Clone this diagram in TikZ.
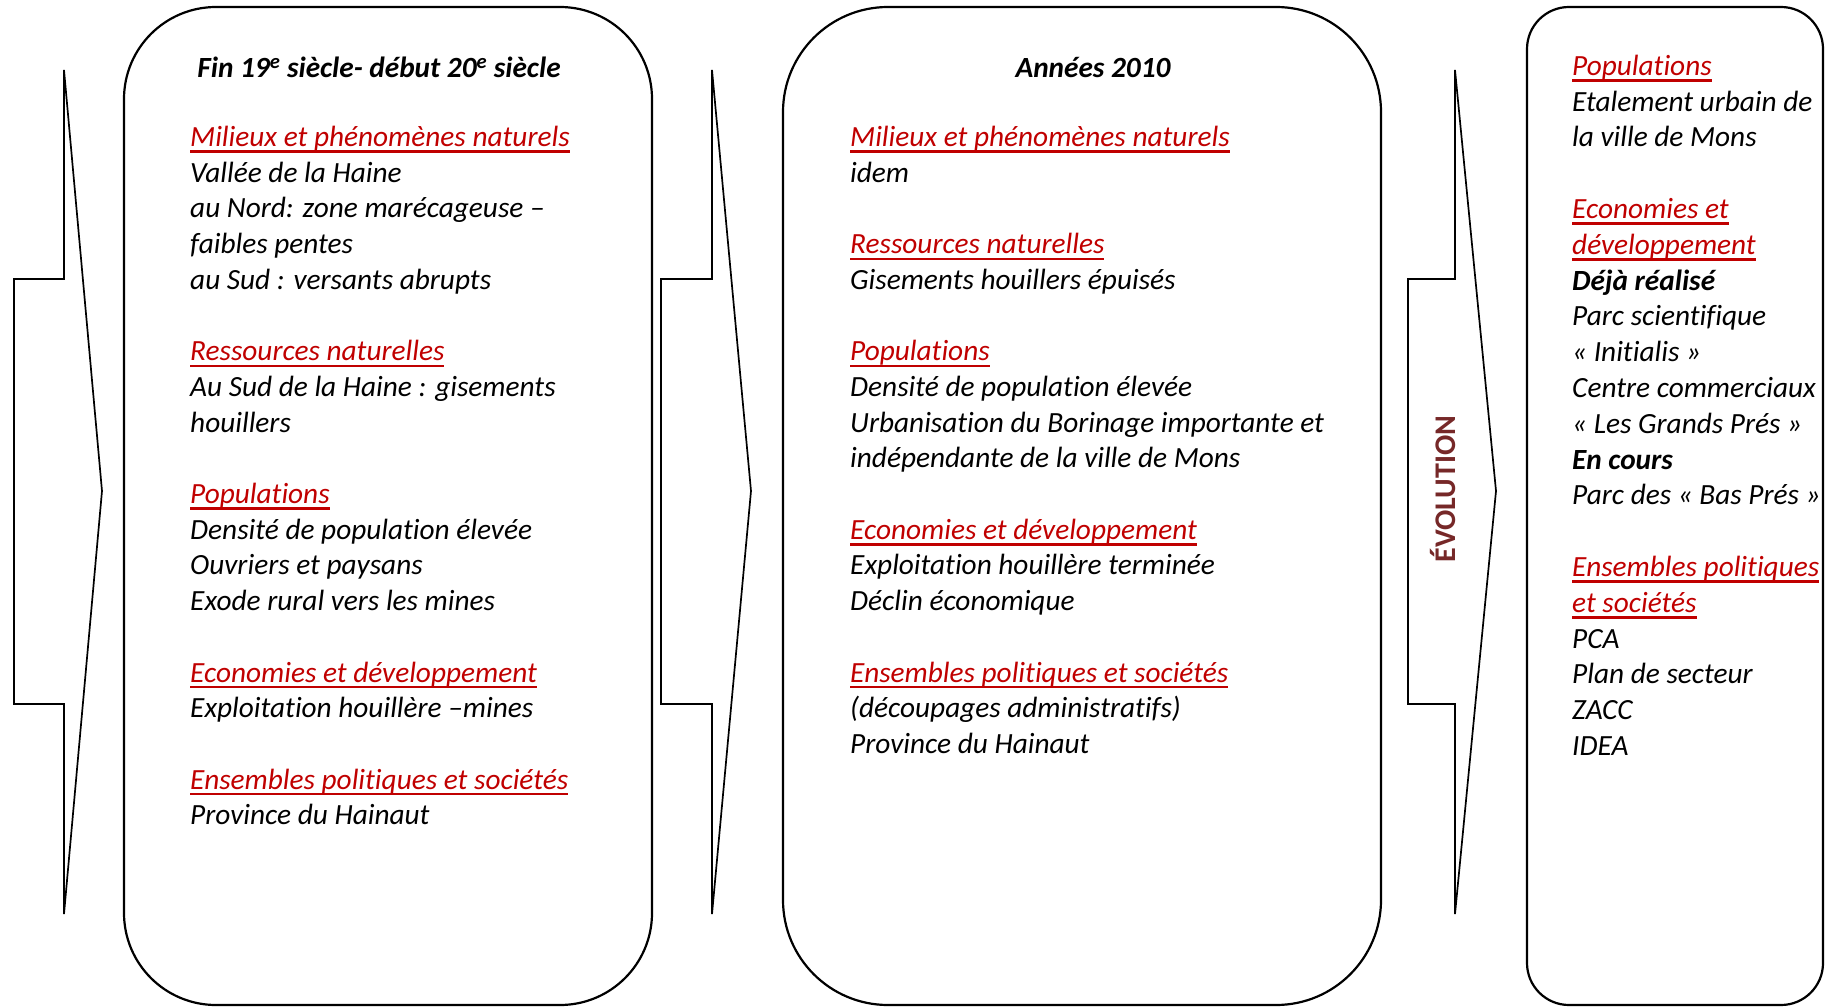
\documentclass[tikz,border=0pt]{standalone}
\usepackage{fontspec}
\setmainfont{Carlito}[Ligatures=NoCommon]
\definecolor{hred}{HTML}{C00000}
\definecolor{evol}{RGB}{118,40,40}
\newsavebox\hdbox
\newcommand{\hd}[1]{\sbox\hdbox{#1}{\color{hred}\rlap{\rule[-6.3pt]{\wd\hdbox}{2.4pt}}#1}}
\tikzset{
  panel/.style={draw=black, line width=2.2pt},
  chevron/.style={draw=black, line width=1.7pt, line join=miter},
  body/.style={anchor=base west, align=left, inner sep=0pt,
    font=\fontsize{29.3}{35.7}\selectfont\itshape},
  body3/.style={body, font=\fontsize{29.3}{35.8}\selectfont\itshape},
  ttl/.style={anchor=base, inner sep=0pt,
    font=\fontsize{29.3}{35.7}\selectfont\bfseries\itshape},
}
\begin{document}
\begin{tikzpicture}[x=1pt,y=-1pt]
\useasboundingbox (0,0) rectangle (1825,1008);
% panels
\draw[panel, rounded corners=92pt] (124,7) rectangle (652,1005);
\draw[panel, rounded corners=105pt] (783,7) rectangle (1381,1005);
\draw[panel, rounded corners=42pt] (1527,7) rectangle (1823,1005);
% chevron arrows
\draw[chevron] (64,70) -- (102,491) -- (64,914) -- (64,704) -- (14,704) -- (14,279) -- (64,279) -- cycle;
\draw[chevron] (712,70) -- (751,491) -- (712,914) -- (712,704) -- (661,704) -- (661,279) -- (712,279) -- cycle;
\draw[chevron] (1455,70) -- (1496,491) -- (1455,914) -- (1455,704) -- (1408,704) -- (1408,279) -- (1455,279) -- cycle;
\node[rotate=90, inner sep=0pt, text=evol, font=\fontsize{30}{36}\selectfont\bfseries] (evo) at (1443,489) {ÉVOLUTION};
% titles
\node[ttl] (t1) at (379,77.5) {Fin 19\textsuperscript{e} siècle- début 20\textsuperscript{e} siècle};
\node[ttl] (t2) at (1093,77.5) {Années 2010};
% panel 1 text (anchored at baseline of last line)
\node[body] (p1) at (190,824.8) {%
\hd{Milieux et phénomènes naturels}\\
Vallée de la Haine\\
au Nord: zone marécageuse –\\
faibles pentes\\
au Sud : versants abrupts\\
\mbox{}\\
\hd{Ressources naturelles}\\
Au Sud de la Haine : gisements\\
houillers\\
\mbox{}\\
\hd{Populations}\\
Densité de population élevée\\
Ouvriers et paysans\\
Exode rural vers les mines\\
\mbox{}\\
\hd{Economies et développement}\\
Exploitation houillère –mines\\
\mbox{}\\
\hd{Ensembles politiques et sociétés}\\
Province du Hainaut};
% panel 2 text
\node[body] (p2) at (850,753.4) {%
\hd{Milieux et phénomènes naturels}\\
idem\\
\mbox{}\\
\hd{Ressources naturelles}\\
Gisements houillers épuisés\\
\mbox{}\\
\hd{Populations}\\
Densité de population élevée\\
Urbanisation du Borinage importante et\\
indépendante de la ville de Mons\\
\mbox{}\\
\hd{Economies et développement}\\
Exploitation houillère terminée\\
Déclin économique\\
\mbox{}\\
\hd{Ensembles politiques et sociétés}\\
(découpages administratifs)\\
Province du Hainaut};
% panel 3 text
\node[body3] (p3) at (1572,755.5) {%
\hd{Populations}\\
Etalement urbain de\\
la ville de Mons\\
\mbox{}\\
\hd{Economies et}\\
\hd{développement}\\
\textbf{Déjà réalisé}\\
Parc scientifique\\
« Initialis »\\
Centre commerciaux\\
« Les Grands Prés »\\
\textbf{En cours}\\
Parc des « Bas Prés »\\
\mbox{}\\
\hd{Ensembles politiques}\\
\hd{et sociétés}\\
PCA\\
Plan de secteur\\
ZACC\\
IDEA};
\end{tikzpicture}
\end{document}
